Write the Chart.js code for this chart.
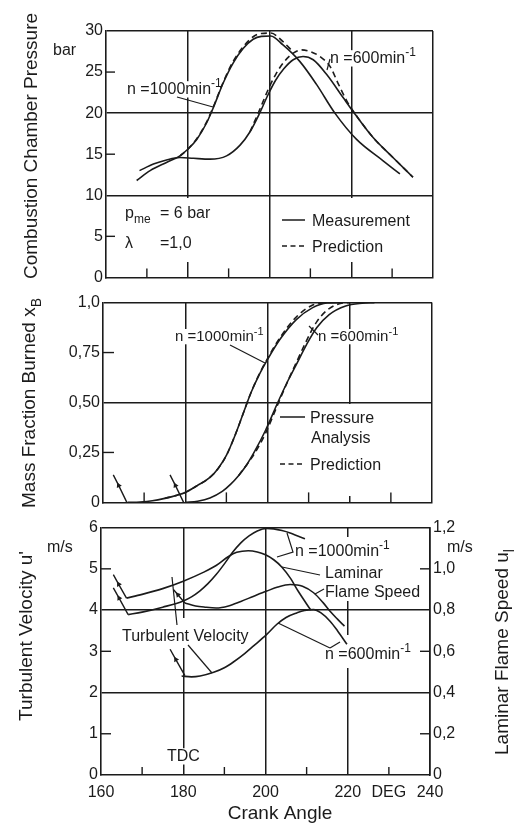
<!DOCTYPE html>
<html>
<head>
<meta charset="utf-8">
<script src="https://cdn.jsdelivr.net/npm/chart.js"></script>
<style>
  body { margin: 0; background: #fff; }
  #wrap { position: relative; width: 527px; height: 825px; background: #fff; }
  .panel { position: absolute; left: 0; width: 527px; }
</style>
</head>
<body>
<div id="wrap">
  <div class="panel" style="top:0;height:290px"><canvas id="pressure"></canvas></div>
  <div class="panel" style="top:290px;height:225px"><canvas id="burned"></canvas></div>
  <div class="panel" style="top:515px;height:310px"><canvas id="velocity"></canvas></div>
</div>
<script>
var INK = '#1b1b1b';
var FONT = '"Liberation Sans", Arial, sans-serif';

// crank angle axis (deg)
var xTickLabels = ['160', '', '180', '', '200', '', '220', 'DEG', '240'];

// combustion chamber pressure, bar
var angP1000 = [167.5, 170.8, 174.8, 178.1, 180, 182.2, 184.6, 186.2, 188.7, 191.1, 193.6, 196, 198, 200.3, 203.3, 207.4, 211.5, 216, 221.3, 227.8, 231.9];
var pMeas1000 = [11.8, 13.0, 14.0, 14.8, 15.6, 16.8, 18.8, 20.6, 23.7, 26.1, 27.9, 29.0, 29.35, 29.4, 28.3, 26.3, 23.5, 20.0, 16.8, 14.2, 12.6];
var angPred1000 = [178.1, 180, 182.2, 184.6, 186.2, 188.7, 191.1, 193.6, 196, 198, 200.3, 203.3, 205.5];
var pPred1000 = [14.8, 15.6, 16.9, 18.9, 20.7, 23.8, 26.3, 28.1, 29.3, 29.7, 29.75, 28.7, 27.6];
var angP600 = [168.2, 171.6, 174.8, 178.1, 181.4, 185.4, 189.5, 192.8, 195.2, 197.5, 199.7, 201.5, 203.5, 205.8, 208.2, 210.7, 214, 218, 220.9, 225.4, 230.2, 235.1];
var pMeas600 = [13.0, 13.8, 14.3, 14.6, 14.5, 14.4, 14.8, 16.1, 17.7, 19.9, 22.3, 24.0, 25.4, 26.5, 26.9, 26.5, 24.7, 21.9, 19.9, 17.0, 14.6, 12.2];
var angPred600 = [195.2, 197.5, 199.7, 201.5, 203.5, 205.8, 207.8, 210, 212.3, 214.8, 216.8, 218.9, 220.9, 225.4, 230.2, 235.1];
var pPred600 = [17.7, 20.3, 22.9, 24.7, 26.2, 27.3, 27.7, 27.5, 26.9, 25.7, 23.6, 21.5, 19.95, 17.0, 14.6, 12.2];
var pTickLabels = ['0', '5', '10', '15', '20', '25', '30'];

// mass fraction burned
var angX1000 = [166, 169, 172, 175, 178, 180, 183, 186, 188, 190, 192, 194, 196, 198, 200, 203, 207, 211, 214.5, 218];
var xbMeas1000 = [0, 0.002, 0.008, 0.02, 0.036, 0.05, 0.085, 0.125, 0.17, 0.235, 0.33, 0.44, 0.55, 0.64, 0.715, 0.815, 0.915, 0.975, 0.998, 1.0];
var angXPred1000 = [175, 178, 180, 183, 186, 188, 190, 192, 194, 196, 198, 200, 203, 207, 211, 214];
var xbPred1000 = [0.02, 0.036, 0.05, 0.085, 0.125, 0.17, 0.235, 0.33, 0.44, 0.55, 0.642, 0.72, 0.823, 0.928, 0.988, 1.0];
var angX600 = [180, 183, 186, 189, 191, 193, 195, 197, 199.5, 202.5, 205, 207, 209.5, 212, 215, 219, 223, 226];
var xbMeas600 = [0, 0.006, 0.022, 0.055, 0.09, 0.135, 0.19, 0.26, 0.36, 0.50, 0.61, 0.69, 0.79, 0.875, 0.94, 0.983, 0.997, 1.0];
var angXPred600 = [193, 195, 197, 199.5, 202.5, 205, 207, 209.5, 212, 215, 218, 220];
var xbPred600 = [0.135, 0.19, 0.25, 0.345, 0.49, 0.61, 0.70, 0.81, 0.905, 0.97, 0.997, 1.0];
var xbTickLabels = ['0', '0,25', '0,50', '0,75', '1,0'];
// ignition marks
var ignAngX1000 = [162.5, 163.8, 165.8];
var ignXb1000 = [0.138, 0.085, 0];
var ignAngX600 = [176.3, 177.6, 179.6];
var ignXb600 = [0.138, 0.085, 0];

// turbulent velocity u', m/s (left axis)
var angU1000 = [166.6, 170, 175, 180, 182, 184, 186, 188, 190, 192, 194, 196, 198, 200.3, 202, 204, 206, 208, 209.6];
var uTurb1000 = [3.89, 3.95, 4.07, 4.22, 4.32, 4.46, 4.64, 4.86, 5.12, 5.40, 5.63, 5.80, 5.92, 5.98, 5.97, 5.93, 5.87, 5.79, 5.73];
var angU600 = [179.6, 182, 184.1, 187.4, 190, 192.2, 195, 197.1, 200.3, 202.7, 205, 207.6, 209.5, 211.7, 213.5, 215.7, 217.5, 219.8];
var uTurb600 = [2.4, 2.38, 2.4, 2.49, 2.6, 2.74, 2.95, 3.13, 3.41, 3.65, 3.82, 3.93, 3.99, 4.01, 3.93, 3.73, 3.5, 3.17];
var uTickLabels = ['0', '1', '2', '3', '4', '5', '6'];
// laminar flame speed u_l, m/s (right axis)
var angSl1000 = [166.2, 170, 175, 180, 185, 188, 191, 193, 195.8, 198, 200, 202, 204, 206, 208, 211];
var sl1000 = [0.858, 0.876, 0.904, 0.94, 0.984, 1.016, 1.06, 1.08, 1.088, 1.082, 1.068, 1.044, 1.008, 0.956, 0.89, 0.8];
var angSl600 = [180.4, 183, 185.3, 188, 191, 194, 197, 200.3, 203, 206, 209, 211.7, 214, 215.7, 217.5, 219.2];
var sl600 = [0.834, 0.82, 0.814, 0.81, 0.82, 0.842, 0.866, 0.892, 0.912, 0.924, 0.916, 0.884, 0.836, 0.794, 0.756, 0.722];
var slTickLabels = ['0', '0,2', '0,4', '0,6', '0,8', '1,0', '1,2'];
// ignition marks
var ignAngU1000 = [163.0, 164.4, 166.6];
var ignU1000 = [4.54, 4.29, 3.89];
var ignAngSl1000 = [163.0, 164.3, 166.2];
var ignSl1000 = [0.972, 0.925, 0.858];
var ignAngU600 = [176.8, 178.2, 180.4];
var ignU600 = [3.05, 2.80, 2.41];
var ignAngSl600 = [177.6, 178.7, 180.4];
var ignSl600 = [0.90, 0.874, 0.834];

Chart.defaults.font.family = FONT;
Chart.defaults.font.size = 16;
Chart.defaults.color = INK;

function pts(xs, ys) {
  return xs.map(function (x, i) { return { x: x, y: ys[i] }; });
}

function series(xs, ys, dashed, axis) {
  return {
    data: pts(xs, ys),
    borderColor: INK,
    borderWidth: 1.6,
    borderDash: dashed ? [6, 4] : [],
    pointRadius: 0,
    cubicInterpolationMode: 'monotone',
    fill: false,
    yAxisID: axis || 'y'
  };
}

// little arrow at the start of a curve
function marker(xs, ys, rot, axis) {
  return {
    data: pts(xs, ys),
    borderColor: INK,
    borderWidth: 1.4,
    tension: 0,
    pointRadius: [0, 3.2, 0],
    pointStyle: 'triangle',
    pointRotation: rot,
    pointBackgroundColor: INK,
    pointBorderColor: INK,
    pointBorderWidth: 0,
    yAxisID: axis || 'y'
  };
}

function gridAt(values) {
  return {
    color: function (c) {
      if (!c.tick) return 'rgba(0,0,0,0)';
      var v = Math.round(c.tick.value * 100) / 100;
      return values.indexOf(v) >= 0 ? INK : 'rgba(0,0,0,0)';
    },
    lineWidth: 1.5,
    drawTicks: false
  };
}

function xScale(showLabels, h) {
  return {
    type: 'linear', min: 160, max: 240,
    ticks: {
      stepSize: 10, display: showLabels, autoSkip: false, maxRotation: 0, padding: 8,
      callback: function (v, i) { return xTickLabels[i]; }
    },
    grid: gridAt([180, 200, 220, 240]),
    border: { color: INK, width: 1.6 },
    afterFit: function (s) { s.height = h; }
  };
}

function yScale(max, step, labels, majors, w, pos) {
  return {
    type: 'linear', position: pos || 'left', min: 0, max: max,
    ticks: {
      stepSize: step, padding: 3,
      callback: function (v, i) { return labels[i]; }
    },
    grid: majors ? gridAt(majors) : { display: false, drawTicks: false },
    border: { color: INK, width: 1.6 },
    afterFit: function (s) { s.width = w; }
  };
}

function drawRun(ctx, x, y, run, size, paint) {
  var cx = x;
  run.forEach(function (p) {
    var fs = p[1] ? Math.round(size * 0.72) : size;
    var dy = p[1] === 'sup' ? -size * 0.42 : (p[1] === 'sub' ? size * 0.3 : 0);
    ctx.font = fs + 'px ' + FONT;
    if (paint) ctx.fillText(p[0], cx, y + dy);
    cx += ctx.measureText(p[0]).width;
  });
  return cx - x;
}

var decor = {
  id: 'decor',
  beforeDatasetsDraw: function (chart, args, o) {
    var ctx = chart.ctx;
    var area = chart.chartArea;
    ctx.save();
    // white boxes behind labels break the grid lines like in the print
    ctx.fillStyle = '#fff';
    (o.masks || []).forEach(function (m) { ctx.fillRect(m[0], m[1], m[2], m[3]); });
    (o.texts || []).forEach(function (t) {
      if (t.mask === false) return;
      var size = t.size || 16;
      var w = drawRun(ctx, 0, 0, t.run, size, false);
      ctx.fillRect(t.x - 2, t.y - size * 0.8, w + 4, size * 1.02);
    });
    // short inner ticks
    ctx.strokeStyle = INK;
    ctx.lineWidth = 1.4;
    (o.ticks || []).forEach(function (t) {
      var s = chart.scales[t.scale];
      t.values.forEach(function (v) {
        var p = s.getPixelForValue(v);
        ctx.beginPath();
        if (t.scale === 'x') { ctx.moveTo(p, area.bottom); ctx.lineTo(p, area.bottom - t.len); }
        else if (s.position === 'right') { ctx.moveTo(area.right, p); ctx.lineTo(area.right - t.len, p); }
        else { ctx.moveTo(area.left, p); ctx.lineTo(area.left + t.len, p); }
        ctx.stroke();
      });
    });
    ctx.restore();
  },
  afterDatasetsDraw: function (chart, args, o) {
    var ctx = chart.ctx;
    ctx.save();
    ctx.fillStyle = INK;
    ctx.strokeStyle = INK;
    ctx.textBaseline = 'alphabetic';
    ctx.textAlign = 'left';
    (o.texts || []).forEach(function (t) {
      var size = t.size || 16, x = t.x;
      if (t.align === 'center') x -= drawRun(ctx, 0, 0, t.run, size, false) / 2;
      drawRun(ctx, x, t.y, t.run, size, true);
    });
    ctx.lineWidth = 1.2;
    (o.lines || []).forEach(function (l) {
      ctx.beginPath();
      l.forEach(function (p, i) { if (i) ctx.lineTo(p[0], p[1]); else ctx.moveTo(p[0], p[1]); });
      ctx.stroke();
    });
    ctx.lineWidth = 1.5;
    (o.samples || []).forEach(function (s) {
      ctx.setLineDash(s.dash ? [5, 3.5] : []);
      ctx.beginPath();
      ctx.moveTo(s.x1, s.y);
      ctx.lineTo(s.x2, s.y);
      ctx.stroke();
    });
    ctx.setLineDash([]);
    (o.vtitles || []).forEach(function (t) {
      var size = t.size || 19;
      ctx.save();
      ctx.translate(t.x, t.y);
      ctx.rotate(-Math.PI / 2);
      var w = drawRun(ctx, 0, 0, t.run, size, false);
      drawRun(ctx, -w / 2, 0, t.run, size, true);
      ctx.restore();
    });
    ctx.restore();
  }
};

function opts(padding, scales, deco) {
  return {
    responsive: true,
    maintainAspectRatio: false,
    animation: false,
    devicePixelRatio: 1,
    events: [],
    layout: { padding: padding },
    scales: scales,
    plugins: { legend: { display: false }, tooltip: { enabled: false }, decor: deco }
  };
}

new Chart('pressure', {
  type: 'line',
  data: {
    datasets: [
      series(angP1000, pMeas1000), series(angP600, pMeas600),
      series(angPred1000, pPred1000, true), series(angPred600, pPred600, true)
    ]
  },
  options: opts({ left: 0, right: 94, top: 31, bottom: 0 }, {
    x: xScale(false, 11),
    y: yScale(30, 5, pTickLabels, [10, 20, 30], 106)
  }, {
    masks: [[118, 198, 100, 64], [272, 198, 155, 64]],
    ticks: [{ scale: 'y', values: [5, 15, 25], len: 9 }, { scale: 'x', values: [170, 190, 210, 230], len: 9 }],
    texts: [
      { x: 53, y: 55, run: [['bar']], mask: false },
      { x: 127, y: 94, run: [['n =1000min'], ['-1', 'sup']] },
      { x: 330, y: 63, run: [['n =600min'], ['-1', 'sup']] },
      { x: 125, y: 218, run: [['p'], ['me', 'sub']], mask: false },
      { x: 160, y: 218, run: [['= 6 bar']], mask: false },
      { x: 125, y: 248, run: [['λ']], mask: false },
      { x: 160, y: 248, run: [['=1,0']], mask: false },
      { x: 312, y: 226, run: [['Measurement']], mask: false },
      { x: 312, y: 252, run: [['Prediction']], mask: false }
    ],
    lines: [[[177, 97], [213, 107]], [[330, 59], [327, 70]]],
    samples: [{ x1: 282, x2: 305, y: 220 }, { x1: 282, x2: 305, y: 246, dash: true }],
    vtitles: [{ x: 37, y: 146, run: [['Combustion Chamber Pressure']] }]
  }),
  plugins: [decor]
});

new Chart('burned', {
  type: 'line',
  data: {
    datasets: [
      series(angX1000, xbMeas1000), series(angX600, xbMeas600),
      series(angXPred1000, xbPred1000, true), series(angXPred600, xbPred600, true),
      marker(ignAngX1000, ignXb1000, -26), marker(ignAngX600, ignXb600, -26)
    ]
  },
  options: opts({ left: 0, right: 95, top: 11, bottom: 0 }, {
    x: xScale(false, 8),
    y: yScale(1, 0.25, xbTickLabels, [0.5, 1], 103)
  }, {
    masks: [[276, 114, 146, 92]],
    ticks: [{ scale: 'y', values: [0.25, 0.75], len: 11 }, { scale: 'x', values: [170, 190, 210, 230], len: 10 }],
    texts: [
      { x: 175, y: 51, size: 15, run: [['n =1000min'], ['-1', 'sup']] },
      { x: 318, y: 51, size: 15, run: [['n =600min'], ['-1', 'sup']] },
      { x: 310, y: 133, run: [['Pressure']], mask: false },
      { x: 311, y: 153, run: [['Analysis']], mask: false },
      { x: 310, y: 180, run: [['Prediction']], mask: false }
    ],
    lines: [[[230, 55], [265, 73]], [[318, 45], [309, 36]]],
    samples: [{ x1: 280, x2: 305, y: 127 }, { x1: 280, x2: 305, y: 174, dash: true }],
    vtitles: [{ x: 35, y: 113, run: [['Mass Fraction Burned x'], ['B', 'sub']] }]
  }),
  plugins: [decor]
});

new Chart('velocity', {
  type: 'line',
  data: {
    datasets: [
      series(angU1000, uTurb1000), series(angU600, uTurb600),
      series(angSl1000, sl1000, false, 'y1'), series(angSl600, sl600, false, 'y1'),
      marker(ignAngU1000, ignU1000, -29), marker(ignAngU600, ignU600, -29),
      marker(ignAngSl1000, ignSl1000, -29, 'y1'), marker(ignAngSl600, ignSl600, -40, 'y1')
    ]
  },
  options: opts({ left: 0, right: 0, top: 11, bottom: 0 }, {
    x: xScale(true, 50),
    y: yScale(6, 1, uTickLabels, [2, 4, 6], 101),
    y1: yScale(1.2, 0.2, slTickLabels, null, 97, 'right')
  }, {
    masks: [[322, 22, 72, 64], [342, 120, 14, 33], [178, 103, 10, 30]],
    ticks: [
      { scale: 'y', values: [1, 3, 5], len: 10 },
      { scale: 'y1', values: [0.2, 0.6, 1.0], len: 10 },
      { scale: 'x', values: [170, 190, 210, 230], len: 8 }
    ],
    texts: [
      { x: 47, y: 37, run: [['m/s']], mask: false },
      { x: 447, y: 37, run: [['m/s']], mask: false },
      { x: 295, y: 41, run: [['n =1000min'], ['-1', 'sup']] },
      { x: 325, y: 63, run: [['Laminar']] },
      { x: 325, y: 82, run: [['Flame Speed']] },
      { x: 122, y: 126, run: [['Turbulent Velocity']] },
      { x: 325, y: 144, run: [['n =600min'], ['-1', 'sup']] },
      { x: 167, y: 246, run: [['TDC']] },
      { x: 280, y: 304, size: 19, align: 'center', run: [['Crank Angle']], mask: false }
    ],
    lines: [
      [[287, 18], [293, 37], [277, 42]],
      [[320, 60], [282, 52]],
      [[324, 74], [315, 79]],
      [[177, 110], [172, 62]],
      [[188, 130], [212, 158]],
      [[330, 133], [278, 108]],
      [[330, 133], [340, 127]]
    ],
    vtitles: [
      { x: 32, y: 121, run: [["Turbulent Velocity u'"]] },
      { x: 508, y: 137, run: [['Laminar Flame Speed u'], ['l', 'sub']] }
    ]
  }),
  plugins: [decor]
});
</script>
</body>
</html>
